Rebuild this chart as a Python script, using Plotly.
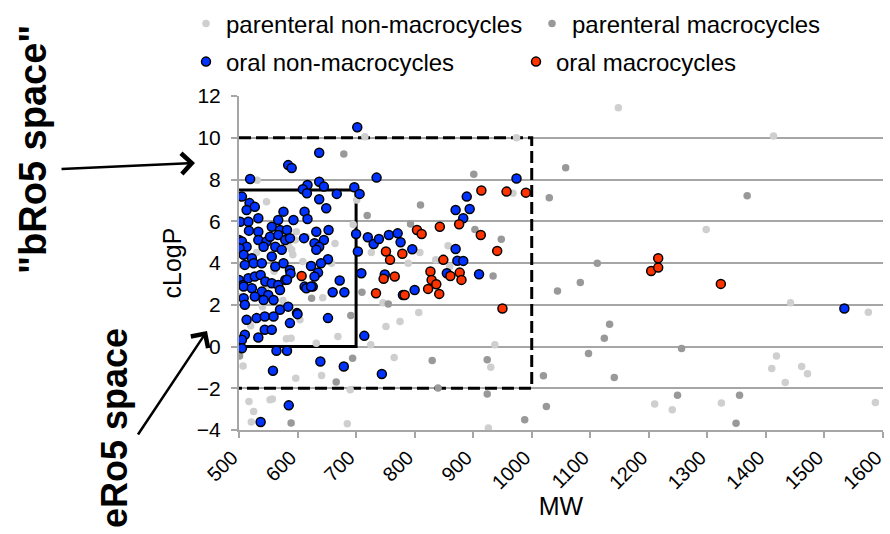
import plotly.graph_objects as go

# ---------------- data ----------------
pnm_mw = [1148, 1413, 1298, 1442, 1575, 1418, 1410, 1433, 1461, 1471, 1210, 1240, 1324, 1587,
          715, 974, 531, 547, 701, 695, 726, 746, 751, 775, 807, 725, 765, 789, 809, 857, 860, 836,
          937, 930, 926, 968, 690, 685, 632, 669, 641, 597, 507, 517, 525, 521, 557, 581, 589, 643,
          609, 598, 515, 507, 500, 604, 626, 592, 664, 615, 658, 540, 547, 500, 596, 590, 553, 540,
          560, 575, 520, 585, 530]
pnm_clogp = [11.44, 10.08, 5.6, 2.09, 1.64, -0.46, -1.05, -1.72, -0.96, -1.31, -2.76, -3.03, -2.71, -2.68,
             10.05, 10.0, 7.97, 6.94, 7.02, 5.85, 4.5, 2.1, 0.96, 1.2, 1.63, 0.08, -0.53, 3.99, 4.5, 4.83, 3.83, 4.15,
             0.08, -0.99, -3.91, 7.34, -2.07, -3.7, 0.16, 0.48, -1.39, -1.52, -0.93, -2.63, -3.11, -3.62, -2.52, 0.37, 0.40, 2.34,
             4.07, 5.5, 6.06, 2.87, 2.4, 1.28, 3.9, 4.39, 4.94, 5.26, 3.99, 1.91, 2.87, 3.9, 5.1, 4.63, -2.55, 5.0,
             3.6, 2.2, 1.0, 4.8, 4.5]

pm_mw = [501, 589, 624, 679, 691, 694, 710, 719, 666, 755, 793, 810, 830, 840, 901, 903, 948, 934,
         924, 924, 988, 1020, 1025, 1030, 1044, 1058, 1368, 1112, 1083, 1133, 1124, 1097, 1256, 1141,
         1249, 1355, 1349]
pm_clogp = [-0.45, -3.67, 2.31, 9.22, 1.48, -0.56, 2.6, 6.27, -1.7, 2.04, 5.87, 6.78, -0.67, -1.99, 8.25, 5.61, 5.14, 3.38,
            -0.64, -2.28, -3.51, -1.4, -2.87, 7.13, 2.66, 8.56, 7.22, 3.99, 3.06, 1.07, 0.40, -0.33, -0.10, -1.48,
            -2.33, -2.33, -3.68]

onm_mw = [702, 637, 584, 590, 519, 735, 974,
          617, 609, 616, 637, 645, 667, 697, 706, 637, 649, 612, 617,
          505, 518, 513, 527, 576, 593, 502, 516, 533, 567, 556, 570, 582, 517, 533,
          500, 505, 513, 501, 533, 547, 542, 553, 567, 579, 587,
          562, 573, 556, 508, 522, 525, 510, 539, 562, 576, 587,
          500, 507, 516, 527, 537, 545, 556, 567, 579,
          508, 522, 539, 550, 570, 508, 510, 527, 542, 559,
          570, 584, 599, 513, 530, 544, 559, 587,
          544, 556, 533, 510, 505, 505, 564, 582, 558, 585, 537,
          611, 632, 653, 645, 629, 637, 632, 700, 703,
          623, 635, 652, 640, 629, 612, 626, 672, 709, 588, 582,
          615, 623, 660, 680, 600, 652, 639, 679, 714, 744,
          720, 730, 739, 756, 771, 776, 796, 780, 800, 749,
          870, 889, 894, 883, 870, 873, 883, 855, 910,
          1534]
onm_clogp = [10.5, 9.28, 8.69, 8.55, 8.02, 8.09, 8.05,
             7.74, 7.53, 7.34, 7.89, 7.66, 7.31, 7.63, 7.31, 7.05, 6.62, 6.46, 6.11,
             7.18, 6.87, 6.54, 6.69, 6.46, 6.06, 5.98, 5.98, 6.14, 6.06, 5.74, 5.58, 5.58, 5.55, 5.5,
             5.1, 5.03, 4.78, 4.71, 5.1, 5.03, 4.78, 5.26, 5.34, 5.1, 5.19,
             4.78, 4.63, 4.31, 4.39, 4.23, 3.99, 3.91, 3.99, 3.83, 3.99, 3.67,
             3.19, 2.95, 3.27, 3.35, 3.43, 3.11, 3.03, 2.95, 3.19,
             2.87, 2.79, 2.63, 2.47, 2.71, 2.31, 2.0, 2.39, 2.23, 2.23,
             1.76, 1.91, 1.6, 1.28, 1.36, 1.44, 1.44, 1.12,
             0.8, 0.8, 0.43, 0.56, 0.32, -0.08, -0.2, -0.2, -1.16, -2.82, -3.62,
             5.19, 5.5, 5.58, 5.1, 4.95, 4.78, 4.63, 5.39, 4.55,
             3.86, 3.54, 4.18, 3.99, 3.35, 2.87, 2.87, 3.16, 3.51, 3.5, 3.2,
             2.79, 2.87, 2.6, 2.6, 1.55, 1.36, -0.72, -0.96, 0.51, -1.32,
             5.23, 4.91, 5.15, 5.34, 5.42, 4.99, 4.66, 2.47, 2.71, 3.45,
             6.54, 7.18, 6.59, 6.14, 4.67, 4.11, 4.1, 3.51, 3.46,
             1.82]

om_mw = [607, 734, 751, 758, 779, 747, 766, 783, 804, 812, 843, 876, 913, 941, 849,
         827, 829, 837, 823, 842, 861, 877, 880, 914, 957, 990, 950, 1204, 1216, 1216, 1323]
om_clogp = [3.38, 2.55, 4.55, 4.15, 4.44, 3.24, 3.35, 2.47, 5.58, 5.39, 5.74, 5.86, 5.34, 4.58, 4.15,
            3.59, 3.19, 2.98, 2.76, 2.52, 3.38, 3.54, 3.19, 7.47, 7.42, 7.37, 1.82, 3.62, 3.78, 4.23, 3.0]

# region limits (Ro5 / bRo5 boxes)
ero5_box = dict(mw=(500, 700), clogp=(0, 7.5))
bro5_box = dict(mw=(500, 1000), clogp=(-2, 10))

x_ticks = list(range(500, 1601, 100))
y_ticks = list(range(-4, 13, 2))

FONT = "Liberation Sans, Arial, sans-serif"
GRID = "#a6a6a6"

# pixel helpers for paper positioning of the side labels (plot area 239..883 x 96..430)
def px(x):
    return (x - 239) / 644

def py(y):
    return (430 - y) / 334

fig = go.Figure()
fig.add_trace(go.Scatter(x=pnm_mw, y=pnm_clogp, mode="markers", name="parenteral non-macrocycles",
                         marker=dict(size=7.5, color="#cfcfcf"), legend="legend", legendwidth=301))
fig.add_trace(go.Scatter(x=pm_mw, y=pm_clogp, mode="markers", name="parenteral macrocycles",
                         marker=dict(size=7.5, color="#999999"), legend="legend"))
fig.add_trace(go.Scatter(x=onm_mw, y=onm_clogp, mode="markers", name="oral non-macrocycles",
                         marker=dict(size=9, color="#0033ff", line=dict(color="black", width=1.5)),
                         legend="legend2", legendwidth=285))
fig.add_trace(go.Scatter(x=om_mw, y=om_clogp, mode="markers", name="oral macrocycles",
                         marker=dict(size=9, color="#ff3300", line=dict(color="black", width=1.5)),
                         legend="legend2"))

def box_path(b):
    x0, x1 = b["mw"]
    y0, y1 = b["clogp"]
    return f"M{x0},{y1} L{x1},{y1} L{x1},{y0} L{x0},{y0}"

fig.add_shape(type="path", path=box_path(ero5_box), xref="x", yref="y",
              line=dict(color="black", width=3), layer="between")
fig.add_shape(type="path", path=box_path(bro5_box), xref="x", yref="y",
              line=dict(color="black", width=3, dash="12px,5px"), layer="between")

# side labels and arrows
fig.add_annotation(text='<b>"bRo5 space"</b>', xref="paper", yref="paper",
                   x=px(33), y=py(150), xanchor="center", yanchor="middle",
                   textangle=-90, showarrow=False,
                   font=dict(family=FONT, size=38, color="black"))
fig.add_annotation(text='<b>eRo5 space</b>', xref="paper", yref="paper",
                   x=px(114), y=py(428), xanchor="center", yanchor="middle",
                   textangle=-90, showarrow=False,
                   font=dict(family=FONT, size=36, color="black"))
fig.add_annotation(text="", xref="paper", yref="paper", x=px(195), y=py(163),
                   ax=-135, ay=6, showarrow=True, arrowhead=4, arrowsize=1.6, arrowwidth=2.5,
                   arrowcolor="black")
fig.add_annotation(text="", xref="paper", yref="paper", x=px(207), y=py(331),
                   ax=-70, ay=105, showarrow=True, arrowhead=4, arrowsize=1.6, arrowwidth=2.5,
                   arrowcolor="black")

leg_common = dict(orientation="h", xanchor="left", yanchor="middle", bgcolor="rgba(0,0,0,0)",
                  font=dict(family=FONT, size=24, color="black"), itemwidth=30)
fig.update_layout(
    width=890, height=534, autosize=False,
    margin=dict(l=239, r=7, t=96, b=104, autoexpand=False),
    paper_bgcolor="white", plot_bgcolor="white",
    font=dict(family=FONT, color="black"),
    showlegend=True,
    legend=dict(x=px(186), y=py(24), **leg_common),
    legend2=dict(x=px(186), y=py(62), **leg_common),
    xaxis=dict(range=[500, 1600], tickvals=x_ticks, ticktext=[str(v) for v in x_ticks],
               tickangle=-45, showgrid=False, zeroline=False, showline=True, linecolor=GRID,
               linewidth=2, ticks="outside", ticklen=6, tickcolor=GRID, tickwidth=2,
               ticklabeloverflow="allow", ticklabelshift=-7, automargin=False,
               tickfont=dict(family=FONT, size=20, color="black"),
               title=dict(text="MW", font=dict(family=FONT, size=25, color="black"), standoff=0)),
    yaxis=dict(range=[-4, 12], tickvals=y_ticks, showgrid=True, gridcolor=GRID, gridwidth=2,
               zeroline=False, showline=True, linecolor=GRID, linewidth=2, ticks="outside",
               ticklen=6, tickcolor=GRID, tickwidth=2, ticklabelstandoff=6, automargin=False,
               tickfont=dict(family=FONT, size=21, color="black"),
               title=dict(text="cLogP", font=dict(family=FONT, size=25, color="black"), standoff=8)),
)

fig.write_html("out.html")
